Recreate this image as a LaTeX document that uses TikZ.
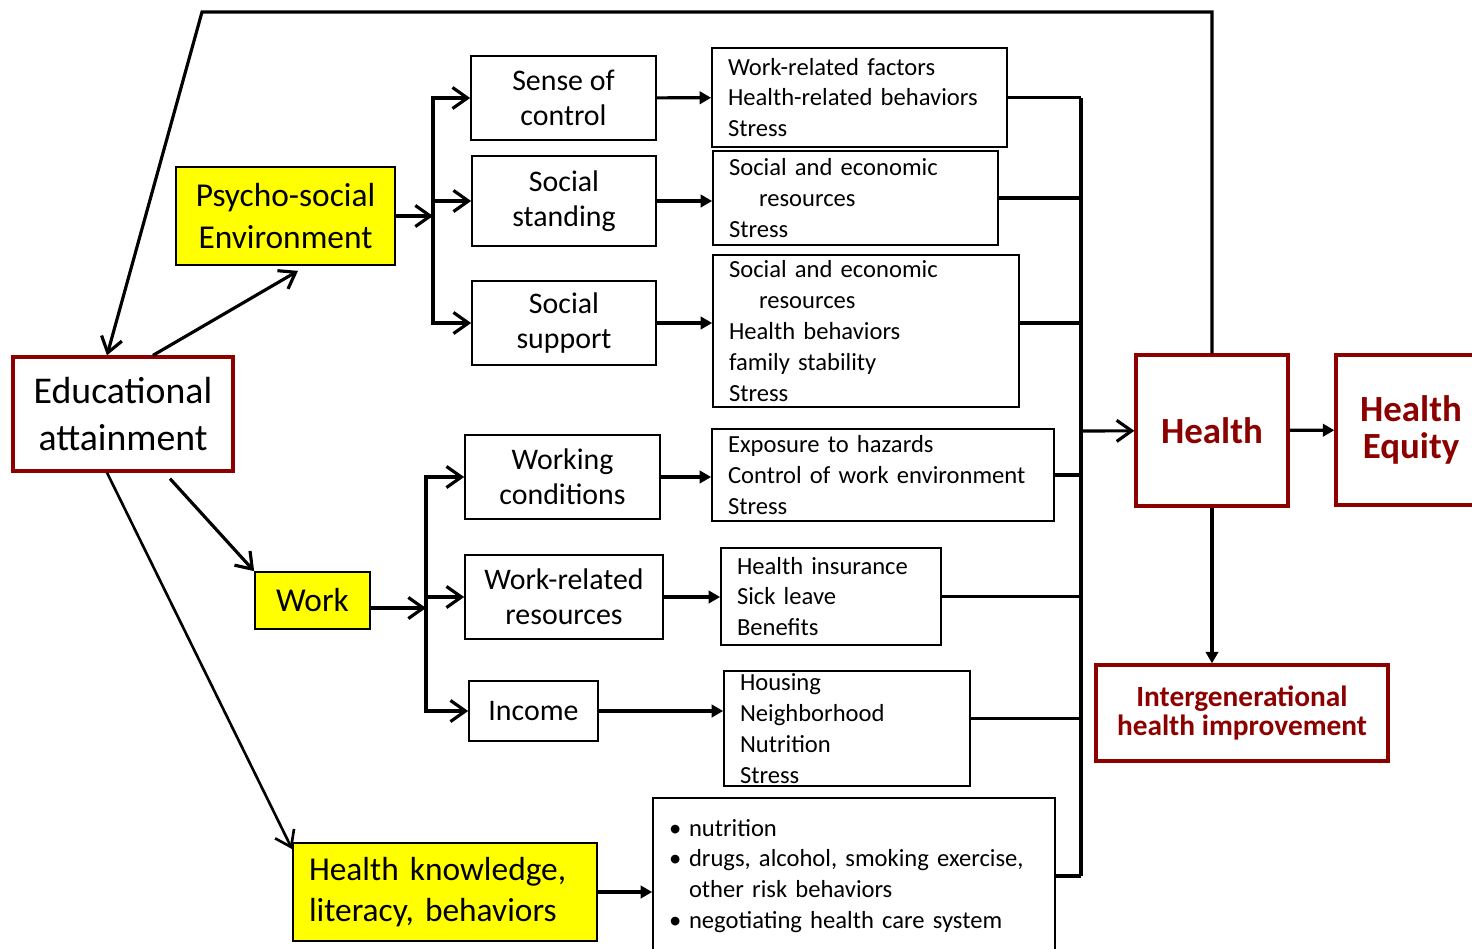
\documentclass[tikz,border=0pt]{standalone}
\usepackage{fontspec}
\setmainfont{Carlito}
\usetikzlibrary{arrows.meta}
\definecolor{eqred}{RGB}{140,0,0}
\definecolor{hilite}{RGB}{255,255,0}

\newcommand{\ind}{\hspace*{0.6cm}}
\newcommand{\bul}{\makebox[0.4cm][l]{\textbullet}}

\begin{document}
\begin{tikzpicture}
    [x=0.02cm,y=-0.02cm,
     every node/.style={draw, rectangle, line width=1pt, inner sep=0pt},
     keybox/.style={fill=hilite, align=center, font=\fontsize{19}{23.5}\selectfont},
     midbox/.style={align=center, font=\fontsize{17}{20}\selectfont},
     factor/.style={text width=#1, align=left, inner xsep=0.32cm, font=\fontsize{14}{17.6}\selectfont},
     redbox/.style={draw=eqred, line width=1.9pt, text=eqred, align=center},
     link/.style={line width=1.8pt},
     barb/.style={line width=1.8pt, -{Straight Barb[length=8.5pt,width=12pt]}},
     tri/.style={line width=1.8pt, -{Triangle[length=6.5pt,width=7pt]}}]
    \useasboundingbox (0,0) rectangle (1472,948);

    % left side
    \node[redbox, text=black, minimum width=4.4cm, minimum height=2.28cm,
      font=\fontsize{21.5}{26.6}\selectfont] (edu) at (123,414) {Educational\\attainment};
    \node[keybox, minimum width=4.38cm, minimum height=1.96cm] (psy) at (285.5,216) {Psycho-social\\Environment};
    \node[keybox, minimum width=2.3cm, minimum height=1.14cm] (work) at (312.5,600.5) {Work};
    \node[keybox, text width=5.44cm, align=left, inner xsep=0.32cm, minimum height=1.96cm] (hk) at (445,892) {Health knowledge,\\literacy, behaviors};

    % middle column
    \node[midbox, minimum width=3.7cm, minimum height=1.68cm] (soc) at (563.5,98) {Sense of\\control};
    \node[midbox, minimum width=3.68cm, minimum height=1.8cm] (sst) at (564,201) {Social\\standing};
    \node[midbox, minimum width=3.68cm, minimum height=1.68cm] (ssp) at (564,323) {Social\\support};
    \node[midbox, minimum width=3.9cm, minimum height=1.68cm] (wc) at (562.5,477) {Working\\conditions};
    \node[midbox, minimum width=3.96cm, minimum height=1.68cm] (wr) at (564,597) {Work-related\\resources};
    \node[midbox, minimum width=2.58cm, minimum height=1.2cm] (inc) at (533.5,711) {Income};

    % factor boxes
    \node[factor=5.26cm, minimum height=1.98cm] (f1) at (859.5,97.5) {Work-related factors\\Health-related behaviors\\Stress};
    \node[factor=5.06cm, minimum height=1.88cm] (f2) at (855.5,198) {Social and economic\\\ind resources\\Stress};
    \node[factor=5.48cm, minimum height=3.04cm] (f3) at (866,331) {Social and economic\\\ind resources\\Health behaviors\\family stability\\Stress};
    \node[factor=6.2cm, minimum height=1.84cm] (f4) at (883,475) {Exposure to hazards\\Control of work environment\\Stress};
    \node[factor=3.76cm, minimum height=1.94cm] (f5) at (831,596.5) {Health insurance\\Sick leave\\Benefits};
    \node[factor=4.28cm, minimum height=2.3cm] (f6) at (847,728.5) {Housing\\Neighborhood\\Nutrition\\Stress};
    \node[factor=7.4cm, minimum height=3.12cm] (f7) at (854,876) {\bul nutrition\\\bul drugs, alcohol, smoking exercise,\\\hspace*{0.4cm}other risk behaviors\\\bul negotiating health care system};

    % outcomes
    \node[redbox, minimum width=3.04cm, minimum height=3.02cm,
      font=\fontsize{21}{21.5}\selectfont\bfseries] (health) at (1212,430.5) {Health};
    \node[redbox, minimum width=3cm, minimum height=3cm,
      font=\fontsize{21}{21.5}\selectfont\bfseries] (equity) at (1411,430) {Health\\Equity};
    \node[redbox, minimum width=5.84cm, minimum height=1.92cm,
      font=\fontsize{16.7}{17}\selectfont\bfseries] (igen) at (1242,713) {Intergenerational\\health improvement};

    \coordinate (pbus) at (433,216);
    \coordinate (wbus) at (426,608);
    \coordinate (hbus) at (1081,431);
    \coordinate (top) at (202,12);

    % from education
    \draw[barb] (health.north) |- (top) -- ([xshift=-0.32cm]edu.north);
    \draw[barb] ([xshift=0.6cm]edu.north) -- ([xshift=0.25cm,yshift=-0.1cm]psy.south);
    \draw[barb] ([xshift=0.94cm,yshift=-0.12cm]edu.south) -- (work.north west);
    \draw[barb, line width=1.5pt] ([xshift=-0.32cm]edu.south) -- ([yshift=-0.14cm]hk.north west);

    % branches
    \draw[barb] (psy) -- (pbus);
    \foreach \n in {soc,sst,ssp}
      \draw[barb] (pbus) |- (\n);
    \draw[barb] (work.east |- wbus) -- (wbus);
    \foreach \n in {wc,wr,inc}
      \draw[barb] (wbus) |- (\n);

    \draw[tri] (soc) -- (f1);
    \foreach \from/\to in {sst/f2, ssp/f3, wc/f4, wr/f5, inc/f6, hk/f7}
      \draw[tri] (\from.east) -- (\from.east -| \to.west);

    % into health
    \foreach \n in {f1,f2,f4,f5,f7}
      \draw[link] (\n.east) -- (\n.east -| hbus);
    \draw[link] (f3.east |- ssp) -- (ssp -| hbus);
    \draw[link] ([yshift=0.2cm]f6.east) -- ([yshift=0.2cm]f6.east -| hbus);
    \draw[link] (f1.east -| hbus) -- (f7.east -| hbus);
    \draw[barb] (hbus) -- (health);

    \draw[tri] (health) -- (equity);
    \draw[tri] (health.south) -- (health.south |- igen.north);
\end{tikzpicture}
\end{document}
